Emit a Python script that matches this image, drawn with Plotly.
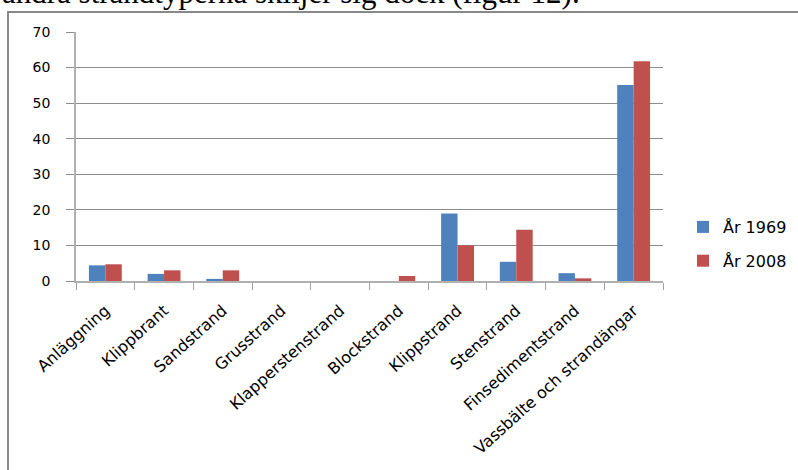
import plotly.graph_objects as go

categories = ["Anläggning", "Klippbrant", "Sandstrand", "Grusstrand", "Klapperstenstrand",
              "Blockstrand", "Klippstrand", "Stenstrand", "Finsedimentstrand",
              "Vassbälte och strandängar"]
values_1969 = [4.4, 2.0, 0.6, 0, 0, 0, 19.0, 5.4, 2.2, 55.1]
values_2008 = [4.7, 3.0, 3.0, 0, 0, 1.4, 10.0, 14.4, 0.75, 61.8]
series_names = ["År 1969", "År 2008"]
y_ticks = [0, 10, 20, 30, 40, 50, 60, 70]
header_text = "andra strandtyperna skiljer sig dock (figur 12)."

W, H = 798, 470
L, R, T, B = 76, 0, 32, 189
PLOT_RIGHT = 663
pw, ph = W - L - R, H - T - B

def px_x(x):
    return (x - L) / pw

def px_y(y):
    return (H - B - y) / ph

fig = go.Figure()
fig.add_trace(go.Bar(x=categories, y=values_1969, name=series_names[0], legendgroup="a",
                     marker=dict(color="#4F81BD", line=dict(width=0))))
fig.add_trace(go.Bar(x=categories, y=values_2008, name=series_names[1], legendgroup="b",
                     marker=dict(color="#C0504D", line=dict(width=0))))

fig.update_layout(
    width=W, height=H,
    margin=dict(l=L, r=R, t=T, b=B, pad=0),
    paper_bgcolor="white", plot_bgcolor="white",
    barmode="group", bargap=0.44, bargroupgap=0,
    font=dict(family="DejaVu Sans", size=14, color="#000"),
    showlegend=True,
    legend=dict(x=px_x(683), y=px_y(244), xanchor="left", yanchor="middle",
                font=dict(size=16, family="DejaVu Sans"), tracegroupgap=10,
                bgcolor="rgba(0,0,0,0)"),
    xaxis=dict(type="category", domain=[0, px_x(PLOT_RIGHT)], tickangle=-42,
               tickson="boundaries", ticks="outside",
               ticklen=7, tickcolor="#a0a0a0", showline=True, linecolor="#b0b0b0",
               linewidth=2, showgrid=False, tickfont=dict(size=16, family="DejaVu Sans"),
               ticklabelstandoff=12,
               range=[-0.5, len(categories) - 0.5]),
    yaxis=dict(range=[0, 70], tickvals=y_ticks, ticks="outside", ticklen=8,
               tickcolor="#8c8c8c", showline=True, linecolor="#b0b0b0", linewidth=1.5,
               showgrid=True, gridcolor="#8c8c8c", gridwidth=1, zeroline=False,
               ticklabelstandoff=13, tickfont=dict(size=14, family="DejaVu Sans")),
)

fig.add_shape(type="rect", xref="paper", yref="paper",
              x0=px_x(8), x1=px_x(810), y0=px_y(490), y1=px_y(12),
              line=dict(color="#888888", width=2), fillcolor="rgba(0,0,0,0)", layer="below")

fig.add_annotation(text=header_text, xref="paper", yref="paper",
                   x=px_x(0), y=px_y(12.5), xanchor="left", yanchor="bottom",
                   showarrow=False,
                   font=dict(family="Liberation Serif", size=31, color="#000"))

fig.write_html("out.html")
